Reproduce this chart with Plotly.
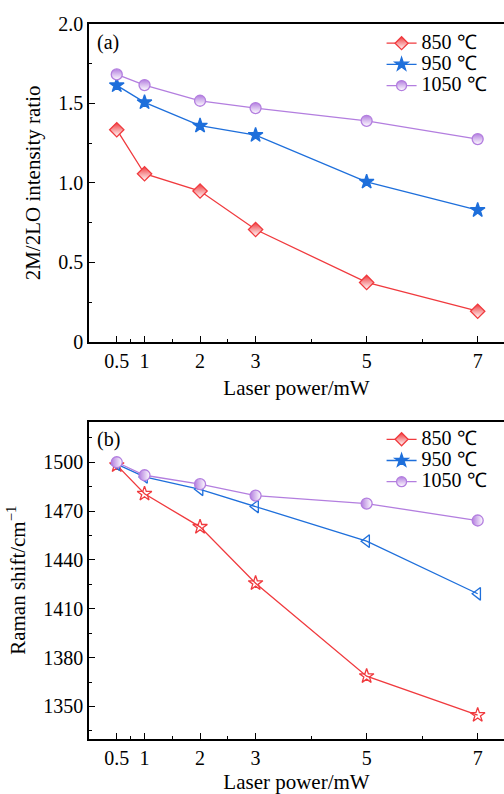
import plotly.graph_objects as go

power = [0.5, 1, 2, 3, 5, 7]
series_names = ["850 ℃", "950 ℃", "1050 ℃"]

ratio_850 = [1.335, 1.058, 0.949, 0.707, 0.374, 0.193]
ratio_950 = [1.614, 1.507, 1.360, 1.301, 1.007, 0.829]
ratio_1050 = [1.683, 1.616, 1.517, 1.471, 1.391, 1.276]

shift_850 = [1498.2, 1480.6, 1460.3, 1425.7, 1368.6, 1344.7]
shift_950 = [1498.8, 1491.0, 1483.4, 1472.8, 1451.5, 1419.2]
shift_1050 = [1500.0, 1492.0, 1486.5, 1479.5, 1474.6, 1464.2]

x_ticks = [0.5, 1, 2, 3, 5, 7]
x_ticklabels = ["0.5", "1", "2", "3", "5", "7"]
x_minor = [0.75, 1.5, 2.5, 4, 6]
ya_ticks = [0, 0.5, 1.0, 1.5, 2.0]
ya_ticklabels = ["0", "0.5", "1.0", "1.5", "2.0"]
ya_minor = [0.25, 0.75, 1.25, 1.75]
yb_ticks = [1350, 1380, 1410, 1440, 1470, 1500]
yb_minor = [1335, 1365, 1395, 1425, 1455, 1485, 1515]

RED = "#F03A3E"
BLUE = "#1E6FDB"
PURPLE = "#B37EDF"
FONT = "Liberation Serif"
TICK_SIZE = 20
TITLE_SIZE = 21

fig = go.Figure()


def add_series(y, color, symbol, xa, ya, grad=None, fill=True):
    marker = dict(symbol=symbol, size=11, color=color if fill else "white",
                  line=dict(color=color, width=1.3))
    if grad:
        marker["color"] = color
        marker["gradient"] = dict(type=grad, color="white")
    fig.add_trace(go.Scatter(x=power, y=y, mode="lines+markers", xaxis=xa, yaxis=ya,
                             line=dict(color=color, width=1.3), marker=marker,
                             showlegend=False, cliponaxis=False))


# Panel (a)
add_series(ratio_850, RED, "diamond", "x", "y", grad="vertical")
add_series(ratio_950, BLUE, "star", "x", "y")
add_series(ratio_1050, PURPLE, "circle", "x", "y", grad="vertical")
# Panel (b)
add_series(shift_850, RED, "star-open", "x2", "y2")
add_series(shift_950, BLUE, "triangle-left-open", "x2", "y2")
add_series(shift_1050, PURPLE, "circle", "x2", "y2", grad="horizontal")

# legend entries (same in both panels)
leg_specs = [(RED, "diamond"), (BLUE, "star"), (PURPLE, "circle")]
for lg, xa, ya in [("legend", "x", "y"), ("legend2", "x2", "y2")]:
    for name, (color, sym) in zip(series_names, leg_specs):
        mk = dict(symbol=sym, size=10, color=color, line=dict(color=color, width=1.3))
        if sym != "star":
            mk["gradient"] = dict(type="vertical", color="white")
        fig.add_trace(go.Scatter(x=[None], y=[None], mode="lines+markers",
                                 name='<span style="font-size:20px">' + name + "</span>",
                                 xaxis=xa, yaxis=ya, legend=lg,
                                 line=dict(color=color, width=1.3), marker=mk))

axis_common = dict(showline=True, linecolor="black", linewidth=1.5, ticks="inside",
                   tickcolor="black", tickwidth=1.3, ticklen=6, showgrid=False,
                   zeroline=False, automargin=False,
                   tickfont=dict(family=FONT, size=TICK_SIZE, color="black"))


def minor(vals):
    return dict(tickmode="array", tickvals=vals, ticks="inside", ticklen=3,
                tickcolor="black", tickwidth=1.3)


xa = dict(axis_common, range=[0, 7.474], tickmode="array", tickvals=x_ticks,
          ticktext=x_ticklabels, mirror=True, minor=minor(x_minor),
          title=dict(text="Laser power/mW",
                     font=dict(family=FONT, size=TITLE_SIZE, color="black"),
                     standoff=10))

legend_common = dict(xanchor="left", yanchor="top", bgcolor="rgba(0,0,0,0)",
                     font=dict(family=FONT, size=14, color="black"),
                     itemwidth=30, tracegroupgap=0)

fig.update_layout(
    width=504, height=794,
    margin=dict(l=89, r=0, t=24, b=55),
    plot_bgcolor="white", paper_bgcolor="white",
    xaxis=dict(xa, domain=[0, 1], anchor="y"),
    xaxis2=dict(xa, domain=[0, 1], anchor="y2"),
    yaxis=dict(axis_common, domain=[0.5554, 1], range=[0, 2], tickmode="array",
               tickvals=ya_ticks, ticktext=ya_ticklabels, anchor="x",
               minor=minor(ya_minor),
               title=dict(text="2M/2LO intensity ratio",
                          font=dict(family=FONT, size=TITLE_SIZE, color="black"),
                          standoff=12)),
    yaxis2=dict(axis_common, domain=[0, 0.444], range=[1330, 1525], tickmode="array",
                tickvals=yb_ticks, anchor="x2", minor=minor(yb_minor),
                title=dict(text="Raman shift/cm<sup>−1</sup>",
                           font=dict(family=FONT, size=TITLE_SIZE, color="black"),
                           standoff=12)),
    legend=dict(legend_common, x=0.705, y=0.995),
    legend2=dict(legend_common, x=0.705, y=0.441),
    annotations=[
        dict(text="(a)", xref="x domain", yref="y domain", x=0.015, y=0.985,
             xanchor="left", yanchor="top", showarrow=False,
             font=dict(family=FONT, size=TICK_SIZE, color="black")),
        dict(text="(b)", xref="x2 domain", yref="y2 domain", x=0.015, y=0.985,
             xanchor="left", yanchor="top", showarrow=False,
             font=dict(family=FONT, size=TICK_SIZE, color="black")),
    ],
)

fig.write_html("out.html", config={"displayModeBar": False},
               post_script="document.body.style.margin='0';document.body.style.overflow='hidden';")
